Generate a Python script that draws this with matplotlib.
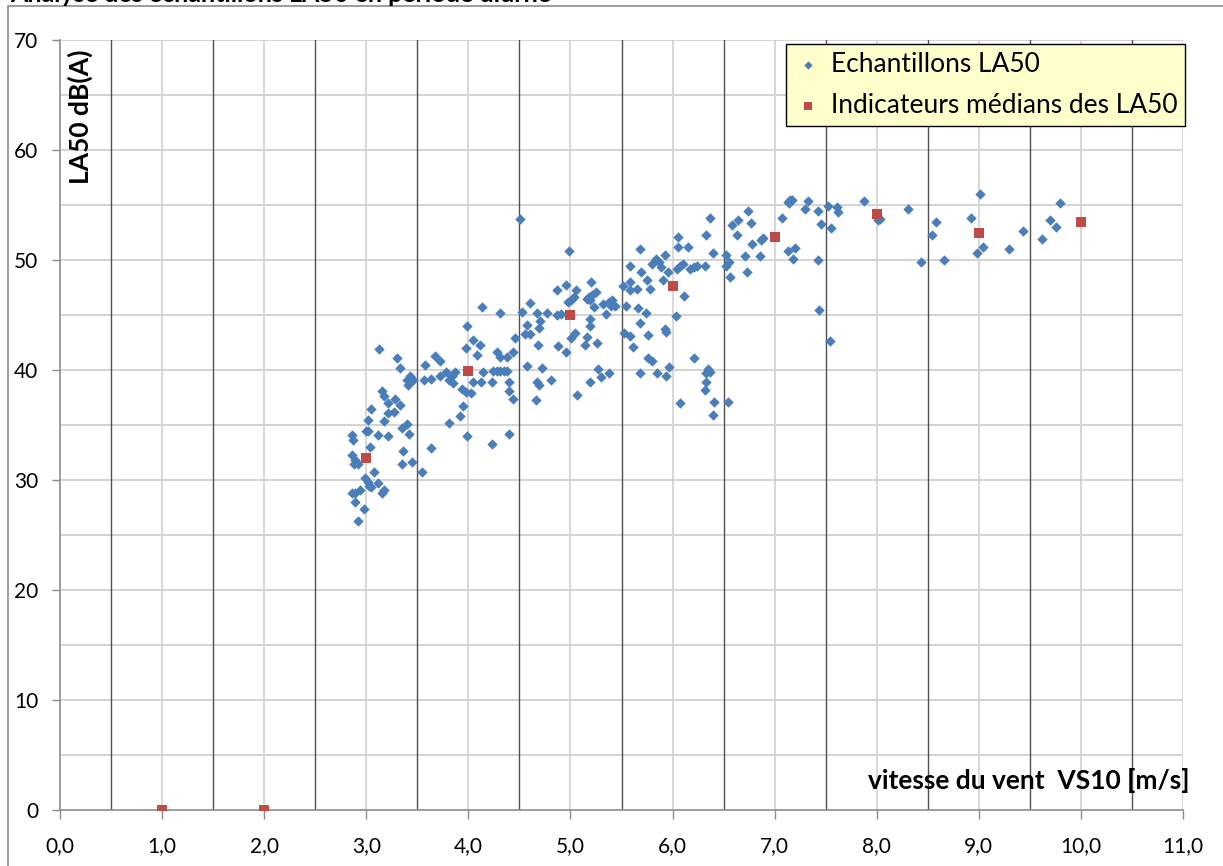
import numpy as np
import matplotlib.pyplot as plt
from matplotlib.patches import Rectangle
from matplotlib.ticker import FuncFormatter

plt.rcParams['font.family'] = ['Lato', 'DejaVu Sans']

# Echantillons LA50 (vitesse VS10 en m/s, niveau en dB(A))
vs_ech = [
    4.13, 4.31, 4.60, 4.53, 4.67, 4.70, 4.77, 4.57, 4.55, 4.60,
    4.69, 3.99, 4.46, 3.12, 3.98, 4.05, 4.11, 4.08, 4.68, 4.28,
    4.31, 4.38, 4.44, 3.30, 3.33, 3.67, 3.72, 3.58, 4.57, 4.72,
    3.43, 3.40, 3.46, 3.41, 3.57, 3.63, 3.72, 3.78, 3.84, 3.87,
    3.81, 3.85, 4.05, 4.14, 4.12, 4.24, 4.28, 4.31, 4.35, 4.38,
    4.23, 4.40, 4.40, 4.44, 3.94, 3.98, 4.03, 3.95, 3.92, 3.81,
    3.99, 4.23, 4.40, 3.63, 3.55, 3.15, 3.17, 3.21, 3.28, 3.33,
    3.21, 3.27, 3.05, 3.02, 3.17, 3.00, 3.02, 3.11, 3.21, 3.35,
    3.40, 3.42, 2.86, 2.87, 3.04, 3.36, 3.35, 3.45, 2.86, 2.89,
    2.92, 2.88, 3.08, 2.99, 3.02, 3.05, 3.11, 3.03, 3.17, 3.15,
    2.86, 2.89, 2.94, 2.89, 2.98, 2.92, 4.67, 4.69, 4.66, 4.81,
    4.51, 4.99, 4.87, 4.96, 5.05, 4.98, 5.01, 5.03, 4.87, 4.91,
    5.04, 5.01, 4.88, 4.96, 5.06, 5.20, 5.16, 5.18, 5.21, 5.25,
    5.19, 5.23, 5.19, 5.19, 5.16, 5.14, 5.26, 5.27, 5.30, 5.38,
    5.19, 5.32, 5.35, 5.38, 5.41, 5.44, 5.40, 5.51, 5.58, 5.58,
    5.65, 5.58, 5.69, 5.75, 5.78, 5.68, 5.54, 5.66, 5.74, 5.52,
    5.58, 5.61, 5.68, 5.76, 5.68, 5.76, 5.80, 5.85, 5.94, 5.97,
    5.93, 5.94, 5.80, 5.84, 5.87, 5.89, 5.93, 5.96, 5.91, 6.05,
    6.05, 6.15, 6.04, 6.07, 6.10, 6.17, 6.21, 6.24, 6.32, 6.11,
    6.03, 6.21, 6.07, 6.33, 6.37, 6.40, 6.35, 6.37, 6.33, 6.33,
    6.32, 6.41, 6.40, 6.54, 6.58, 6.64, 6.63, 6.71, 6.52, 6.55,
    6.52, 6.56, 6.73, 6.74,
    6.77, 6.78, 6.86, 6.89, 6.87, 7.07, 7.13, 7.20, 7.18, 7.13,
    7.15, 7.17, 7.14, 7.30, 7.33, 7.42, 7.45, 7.42, 7.43, 7.52,
    7.61, 7.62, 7.55, 7.54, 7.88, 8.01, 8.03, 8.31, 8.43, 8.54,
    8.58, 8.66, 8.92, 9.01, 9.04, 8.98, 9.30, 9.43, 9.62, 9.70,
    9.76, 9.80,
]
la50_ech = [
    45.7, 45.2, 46.1, 45.3, 45.2, 44.5, 45.2, 44.1, 43.3, 43.3,
    43.8, 44.0, 42.9, 41.9, 42.0, 42.7, 42.3, 41.4, 42.3, 41.6,
    41.2, 41.2, 41.6, 41.1, 40.2, 41.3, 40.8, 40.5, 40.4, 40.2,
    39.5, 39.1, 39.1, 38.6, 39.1, 39.2, 39.5, 39.8, 39.5, 39.8,
    39.1, 38.8, 38.9, 39.8, 38.9, 39.9, 39.9, 39.9, 39.9, 39.9,
    38.9, 38.9, 38.1, 37.4, 38.3, 38.0, 37.9, 36.7, 35.8, 35.2,
    34.0, 33.3, 34.2, 32.9, 30.7, 38.1, 37.6, 37.0, 37.4, 36.8,
    36.1, 36.2, 36.5, 35.5, 35.4, 34.5, 34.5, 34.1, 34.0, 34.7,
    35.1, 34.2, 34.1, 33.6, 33.0, 32.6, 31.5, 31.6, 32.3, 31.8,
    31.5, 31.5, 30.7, 30.2, 29.8, 29.4, 29.7, 29.5, 29.1, 28.8,
    28.8, 28.8, 29.1, 28.0, 27.4, 26.3, 38.9, 38.6, 37.3, 39.1,
    53.7, 50.8, 47.3, 47.7, 47.3, 46.2, 46.4, 46.6, 45.0, 45.1,
    43.4, 42.9, 42.2, 41.6, 37.7, 48.0, 46.5, 46.6, 46.8, 47.1,
    46.4, 45.7, 44.6, 44.0, 43.0, 42.3, 42.5, 40.1, 39.4, 39.7,
    38.9, 46.0, 45.1, 46.2, 46.4, 45.8, 45.8, 47.6, 48.0, 47.3,
    47.4, 49.5, 48.9, 48.2, 47.4, 51.0, 45.8, 45.6, 45.2, 43.4,
    43.1, 42.1, 44.3, 43.2, 39.7, 41.1, 40.8, 39.7, 39.5, 40.3,
    43.7, 43.5, 49.6, 50.1, 49.8, 49.4, 50.5, 48.9, 48.2, 52.1,
    51.2, 51.2, 49.2, 49.5, 49.6, 49.2, 49.4, 49.5, 49.5, 46.7,
    44.9, 41.1, 37.0, 52.3, 53.8, 50.6, 40.1, 39.8, 39.7, 38.9,
    38.2, 37.1, 35.9, 37.1, 53.2, 53.6, 52.3, 50.4, 50.5, 49.8,
    49.5, 48.5, 48.9, 54.5,
    53.4, 51.5, 50.4, 52.0, 51.8, 53.8, 50.8, 51.1, 50.1, 55.3,
    55.5, 55.5, 55.2, 54.6, 55.4, 54.5, 53.3, 50.0, 45.5, 54.9,
    54.8, 54.4, 52.9, 42.6, 55.4, 53.6, 53.7, 54.6, 49.8, 52.3,
    53.5, 50.0, 53.8, 56.0, 51.2, 50.6, 51.0, 52.6, 51.9, 53.6,
    53.0, 55.2,
]

# Indicateurs médians par classe de vitesse
vs_med = [1, 2, 3, 4, 5, 6, 7, 8, 9, 10]
la50_med = [0.0, 0.0, 32.0, 39.9, 45.0, 47.6, 52.1, 54.2, 52.5, 53.5]

x_ticks = np.arange(0, 12, 1)
y_ticks = np.arange(0, 80, 10)

fig = plt.figure(figsize=(12.23, 8.66), dpi=100)
ax = fig.add_axes([60 / 1223, 1 - 810 / 866, 1123 / 1223, 770 / 866])

# cadre du graphique
fig.patches.append(Rectangle((8 / 1223, -0.01), 1.0, 1 - 6 / 866 + 0.01,
                             transform=fig.transFigure, fill=False,
                             edgecolor='#8C8C8C', linewidth=1.2))

# titre (coupé en haut, comme dans l'original)
fig.text(0.008, 1 - 2 / 866, 'Analyse des échantillons LA50 en période diurne',
         fontsize=18, fontweight='bold', va='baseline', ha='left')

# quadrillage
for v in np.arange(5, 71, 5):
    ax.axhline(v, color='#D0D0D0', linewidth=1.3, zorder=0)
for v in x_ticks[1:]:
    ax.axvline(v, color='#D4D4D4', linewidth=1.3, zorder=0)
for v in np.arange(0.5, 11, 1):
    ax.axvline(v, color='#505050', linewidth=1.0, zorder=0)

ax.scatter(vs_ech, la50_ech, marker='D', s=28, color='#4A7EBB',
           linewidths=0, label='Echantillons LA50', zorder=3)
ax.scatter(vs_med, la50_med, marker='s', s=48, color='#BE4B48',
           linewidths=0, label='Indicateurs médians des LA50', zorder=4)

ax.set_xlim(0, 11)
ax.set_ylim(0, 70)
ax.set_xticks(x_ticks)
ax.set_yticks(y_ticks)
ax.xaxis.set_major_formatter(FuncFormatter(lambda v, p: f'{v:.1f}'.replace('.', ',')))
ax.tick_params(axis='x', length=6.5, width=1, color='#8C8C8C', pad=12, labelsize=15)
ax.tick_params(axis='y', length=5.8, width=1, color='#8C8C8C', pad=10, labelsize=15)

for s in ['top', 'right']:
    ax.spines[s].set_visible(False)
for s in ['left', 'bottom']:
    ax.spines[s].set_color('#8C8C8C')
    ax.spines[s].set_linewidth(1.2)

ax.text(0.018, 0.988, 'LA50 dB(A)', transform=ax.transAxes, rotation=90,
        ha='center', va='top', fontsize=19, fontweight='bold')
ax.text(1.006, 0.038, 'vitesse du vent  VS10 [m/s]', transform=ax.transAxes,
        ha='right', va='center', fontsize=19, fontweight='bold')

leg = ax.legend(loc='upper right', bbox_to_anchor=(1.002, 0.995), borderaxespad=0,
                fontsize=19, markerscale=0.8, handletextpad=0.3, handlelength=1.1,
                labelspacing=0.6, borderpad=0.3, fancybox=False, framealpha=1)
leg.get_frame().set_facecolor('#FFFFCC')
leg.get_frame().set_edgecolor('black')
leg.get_frame().set_linewidth(1.0)

fig.savefig('out.png', dpi=100)
